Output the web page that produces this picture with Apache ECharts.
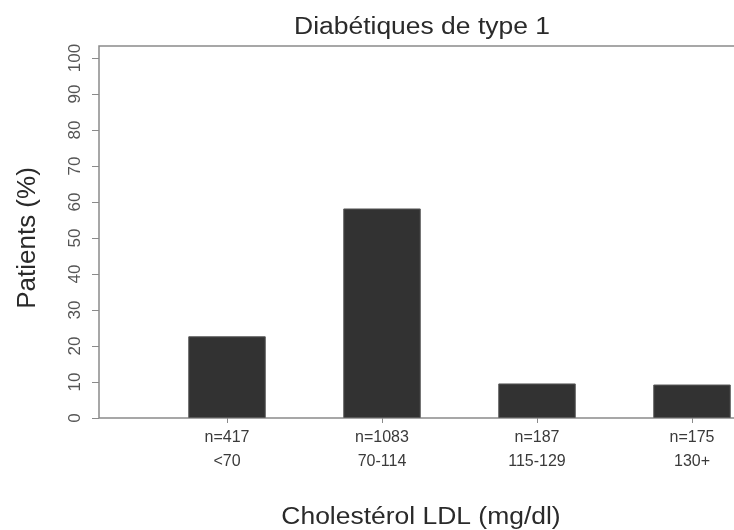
<!DOCTYPE html>
<html>
<head>
<meta charset="utf-8">
<script src="https://cdn.jsdelivr.net/npm/echarts@6/dist/echarts.min.js"></script>
<style>
  html, body { margin: 0; padding: 0; background: #fff; }
  #chart { width: 734px; height: 530px; }
</style>
</head>
<body>
<div id="chart"></div>
<script>
// LDL cholesterol groups among type 1 diabetics
const ldlGroups = ['<70', '70-114', '115-129', '130+'];
const groupCounts = ['n=417', 'n=1083', 'n=187', 'n=175'];
const patientPct = [22.7, 58.2, 9.6, 9.3];
const yTicks = { min: 0, max: 100, step: 10 };
const mainTitle = 'Diabétiques de type 1';
const xTitle = 'Cholestérol LDL (mg/dl)';
const yTitle = 'Patients (%)';

const chart = echarts.init(document.getElementById('chart'), null, { renderer: 'canvas' });
const font = 'Liberation Sans, Arial, Helvetica, sans-serif';
const frameColor = '#8a8a8a';
const textColor = '#3a3a3a';
const headColor = '#2a2a2a';
const wide = 1.15; // horizontal stretch of the typeface

function headline(text, x, y, size) {
  return {
    type: 'text', x: x, y: y, scaleX: wide, silent: true,
    style: { text: text, font: size + 'px ' + font, fill: headColor, textAlign: 'center', textVerticalAlign: 'middle' }
  };
}

chart.setOption({
  animation: false,
  backgroundColor: '#ffffff',
  graphic: [
    headline(mainTitle, 422, 28, 23),
    headline(xTitle, 421, 518, 23)
  ],
  grid: [
    // box around the plotting region (its right side runs off the canvas)
    { left: 99, top: 46, right: -45, bottom: 112, outerBoundsMode: 'none', show: true, borderColor: frameColor, borderWidth: 1.5, backgroundColor: 'transparent' },
    // bars and axes, 0..100 %
    { left: 149.5, top: 58, right: -35.5, bottom: 112, outerBoundsMode: 'none' }
  ],
  xAxis: [
    { gridIndex: 0, type: 'value', show: false, min: 0, max: 1 },
    {
      gridIndex: 1, type: 'category',
      data: ldlGroups.map((g, i) => groupCounts[i] + '\n' + g),
      axisLine: { show: false },
      axisTick: { show: true, alignWithLabel: true, length: 5, lineStyle: { color: frameColor, width: 1 } },
      axisLabel: { margin: 8, fontFamily: font, fontSize: 16, color: textColor, lineHeight: 24, interval: 0 }
    }
  ],
  yAxis: [
    { gridIndex: 0, type: 'value', show: false, min: 0, max: 1 },
    {
      gridIndex: 1, type: 'value', offset: 50.5,
      min: yTicks.min, max: yTicks.max, interval: yTicks.step,
      splitLine: { show: false },
      axisLine: { show: false },
      axisTick: { show: true, length: 7, lineStyle: { color: frameColor, width: 1 } },
      axisLabel: { rotate: 90, margin: 15, fontFamily: font, fontSize: 17, color: '#555' },
      name: yTitle, nameLocation: 'middle', nameGap: 58, nameRotate: 90,
      nameTextStyle: { fontFamily: font, fontSize: 26, color: headColor }
    }
  ],
  series: [
    {
      type: 'bar',
      xAxisIndex: 1, yAxisIndex: 1,
      data: patientPct,
      barWidth: '50%',
      itemStyle: { color: '#323232', borderColor: '#5a5a5a', borderWidth: 1 }
    }
  ]
});
</script>
</body>
</html>
